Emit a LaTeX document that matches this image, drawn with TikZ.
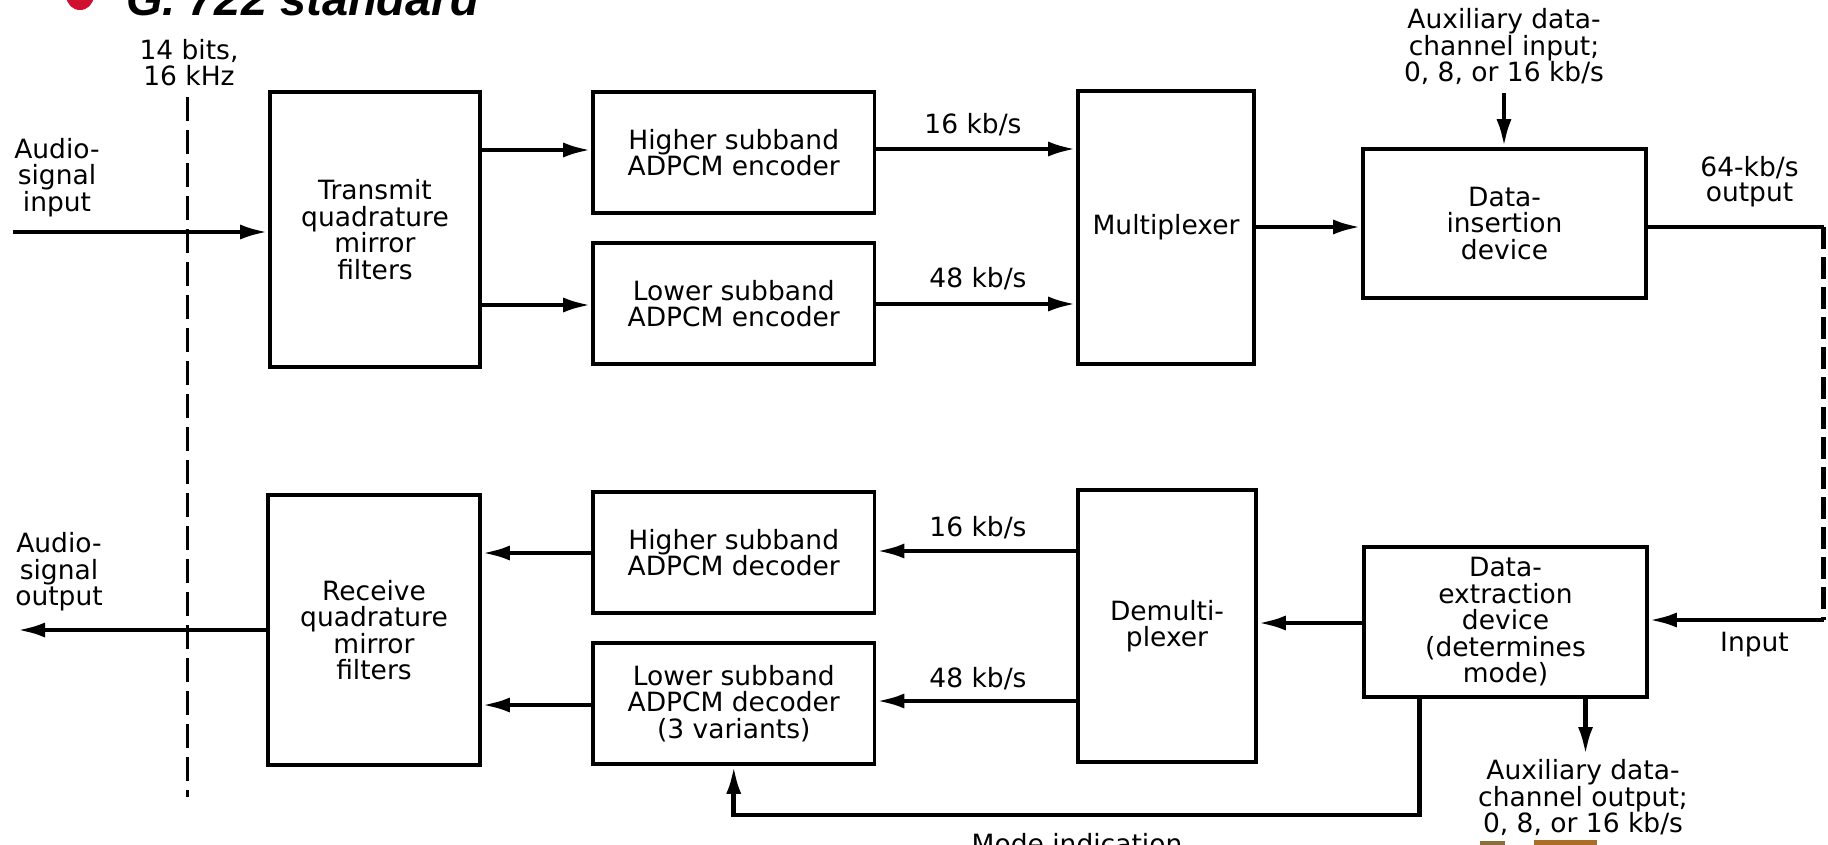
\documentclass[tikz,border=0pt]{standalone}
\usepackage{fontspec}
\setmainfont{DejaVu Sans}
\newfontfamily\titlefont{Liberation Sans}
\usetikzlibrary{arrows.meta}
\definecolor{bulletred}{RGB}{208,16,48}
\definecolor{scrapA}{RGB}{140,110,60}
\definecolor{scrapB}{RGB}{170,110,40}
\newcommand\lblfont{\fontsize{26.5pt}{26.5pt}\selectfont}
\tikzset{
  blk/.style={draw, line width=3.6pt, align=center, inner sep=0pt, font=\lblfont},
  lbl/.style={align=center, inner sep=0pt, font=\lblfont},
  arr/.style={line width=4.6pt, -{Latex[length=28pt,width=15pt]}},
  wire/.style={line width=4.6pt},
  cutline/.style={line width=3.4pt, dash pattern=on 24pt off 9pt},
  linkdash/.style={line width=5pt, dash pattern=on 22pt off 8pt},
}
\begin{document}
\begin{tikzpicture}[x=1pt,y=-1pt]
\useasboundingbox (0,0) rectangle (1828,844);
\clip (0,0) rectangle (1828,844);
\fill[white] (0,0) rectangle (1828,844);

% title (cut off at the top)
\fill[bulletred] (80,-3.5) circle (13.5pt);
\node[anchor=base west, inner sep=0pt, font={\titlefont\bfseries\itshape\fontsize{47pt}{50pt}\selectfont}] (title) at (126,15) {G. 722 standard};

% blocks
\node[blk, minimum width=210pt, minimum height=275pt] (tx) at (375,229.5) {Transmit\\quadrature\\mirror\\filters};
\node[blk, minimum width=281.5pt, minimum height=121pt] (he) at (733.75,152.5) {Higher subband\\ADPCM encoder};
\node[blk, minimum width=281.5pt, minimum height=121pt] (le) at (733.75,303.5) {Lower subband\\ADPCM encoder};
\node[blk, minimum width=176pt, minimum height=273pt] (mux) at (1166,227.5) {Multiplexer};
\node[blk, minimum width=283pt, minimum height=149pt] (ins) at (1504.5,223.5) {Data-\\insertion\\device};
\node[blk, minimum width=283pt, minimum height=150pt] (ext) at (1505.5,622) {Data-\\extraction\\device\\(determines\\mode)};
\node[blk, minimum width=178pt, minimum height=272pt] (dmx) at (1167,626) {Demulti-\\plexer};
\node[blk, minimum width=281.5pt, minimum height=121pt] (hd) at (733.75,552.5) {Higher subband\\ADPCM decoder};
\node[blk, minimum width=281.5pt, minimum height=121pt] (ld) at (733.75,703.5) {Lower subband\\ADPCM decoder\\(3 variants)};
\node[blk, minimum width=212pt, minimum height=270pt] (rx) at (374,630) {Receive\\quadrature\\mirror\\filters};

% free labels
\node[lbl] (bits) at (189,62.75) {14 bits,\\16 kHz};
\node[lbl] (ain) at (57,177.25) {Audio-\\signal\\input};
\node[lbl] (aout) at (59,571.75) {Audio-\\signal\\output};
\node[lbl, anchor=base] (r16t) at (973,133) {16 kb/s};
\node[lbl, anchor=base] (r48t) at (978,287) {48 kb/s};
\node[lbl, anchor=base] (r16b) at (978,536) {16 kb/s};
\node[lbl, anchor=base] (r48b) at (978,687) {48 kb/s};
\node[lbl] (auxinl) at (1504,46.75) {Auxiliary data-\\channel input;\\0, 8, or 16 kb/s};
\node[lbl, font={\fontsize{26.5pt}{25pt}\selectfont}] (outl) at (1749.5,182) {64-kb/s\\output};
\node[lbl, anchor=base] (inl) at (1754.5,651) {Input};
\node[lbl] (auxoutl) at (1583,797.75) {Auxiliary data-\\channel output;\\0, 8, or 16 kb/s};
\node[lbl, anchor=base] (model) at (1077,853) {Mode indication};

% coordinates for free ends and corners
\coordinate (srcin) at (13,232);
\coordinate (sinkout) at (17,630);
\coordinate (cutT) at (187.5,97);
\coordinate (cutB) at (187.5,797);
\coordinate (auxin) at (1504,93);
\coordinate (c1) at (1823.5,227);
\coordinate (c2) at (1823.5,620);
\coordinate (auxo) at (1585.5,755);
\coordinate (m1) at (1419.5,815);

% cut line
\draw[cutline] (cutT) -- (cutB);

% transmit path
\draw[arr] (srcin) -- (srcin -| tx.west);
\draw[arr] (tx.east |- 0,150) -- (he.west |- 0,150);
\draw[arr] (tx.east |- 0,305) -- (le.west |- 0,305);
\draw[arr] (he.east |- 0,149) -- (mux.west |- 0,149);
\draw[arr] (le.east |- 0,304) -- (mux.west |- 0,304);
\draw[arr] (mux.east |- 0,227) -- (ins.west |- 0,227);
\draw[arr] (auxin) -- (auxin |- ins.north);

% link
\draw[wire] (ins.east |- c1) -- (c1);
\draw[linkdash] (c1) -- (c2);
\draw[arr] (c2) -- (c2 -| ext.east);

% receive path
\draw[arr] (ext.west |- 0,623) -- (dmx.east |- 0,623);
\draw[arr] (dmx.west |- 0,551) -- (hd.east |- 0,551);
\draw[arr] (dmx.west |- 0,701) -- (ld.east |- 0,701);
\draw[arr] (hd.west |- 0,553) -- (rx.east |- 0,553);
\draw[arr] (ld.west |- 0,705) -- (rx.east |- 0,705);
\draw[arr] (rx.west |- sinkout) -- (sinkout);
\draw[arr] (auxo |- ext.south) -- (auxo);
\draw[arr] (m1 |- ext.south) -- (m1) -- (m1 -| ld.south) -- (ld.south);

% scraps at the bottom edge
\fill[scrapA] (1480,841) rectangle (1505,846);
\fill[scrapB] (1534,840) rectangle (1597,846);
\end{tikzpicture}
\end{document}
